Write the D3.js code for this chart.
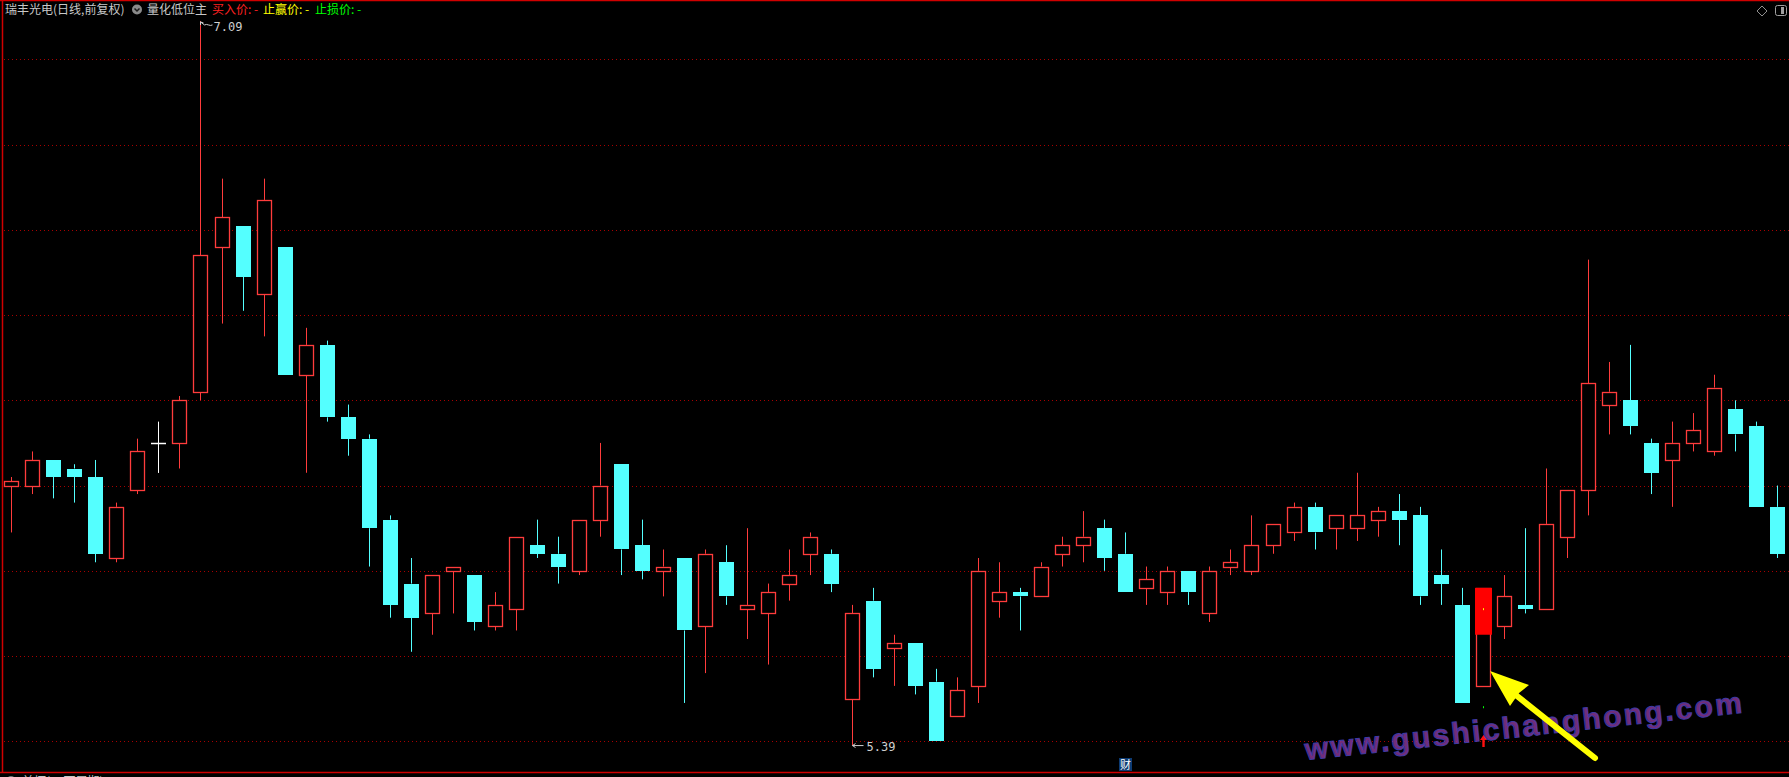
<!DOCTYPE html>
<html>
<head>
<meta charset="utf-8">
<script src="https://cdn.jsdelivr.net/npm/d3@7"></script>
<style>
  html, body { margin: 0; padding: 0; background: #000; overflow: hidden; }
</style>
</head>
<body>
<div id="chart"></div>
<script>
// daily bars (price, yuan)
const opens = [6.00,6.00,6.06,6.04,6.02,5.83,5.99,6.10,6.10,6.22,6.56,6.61,6.45,6.56,6.26,6.33,6.16,
  6.11,5.92,5.77,5.70,5.80,5.79,5.67,5.71,5.86,5.84,5.80,5.92,6.05,5.86,5.80,5.83,5.67,
  5.82,5.71,5.70,5.77,5.84,5.84,5.50,5.73,5.62,5.63,5.54,5.46,5.53,5.73,5.75,5.74,5.84,
  5.86,5.90,5.84,5.76,5.75,5.80,5.70,5.81,5.80,5.86,5.89,5.95,5.90,5.90,5.92,5.94,5.93,
  5.79,5.72,5.53,5.67,5.72,5.71,5.88,5.99,6.19,6.20,6.10,6.06,6.10,6.08,6.18,6.14,5.95];
const highs = [6.02,6.08,6.06,6.05,6.06,5.96,6.11,6.15,6.21,7.09,6.72,6.61,6.72,6.56,6.37,6.34,6.19,
  6.12,5.93,5.83,5.79,5.81,5.79,5.75,5.88,5.92,5.88,5.92,6.10,6.05,5.92,5.85,5.83,5.85,
  5.86,5.90,5.77,5.85,5.89,5.85,5.72,5.76,5.65,5.63,5.57,5.55,5.83,5.82,5.76,5.82,5.88,
  5.94,5.92,5.89,5.81,5.81,5.80,5.81,5.85,5.93,5.91,5.96,5.96,5.93,6.03,5.95,5.98,5.95,
  5.85,5.76,5.76,5.79,5.90,6.04,5.99,6.53,6.29,6.33,6.11,6.15,6.17,6.26,6.20,6.15,6.00];
const lows = [5.89,5.98,5.97,5.96,5.82,5.82,5.98,6.03,6.04,6.20,6.38,6.41,6.35,6.26,6.03,6.15,6.07,
  5.81,5.69,5.61,5.65,5.70,5.66,5.66,5.66,5.83,5.77,5.79,5.88,5.79,5.78,5.74,5.49,5.56,
  5.72,5.64,5.58,5.73,5.79,5.75,5.39,5.55,5.53,5.51,5.40,5.46,5.49,5.69,5.66,5.74,5.81,
  5.82,5.80,5.75,5.72,5.72,5.72,5.68,5.79,5.79,5.84,5.87,5.85,5.85,5.87,5.88,5.86,5.72,
  5.72,5.49,5.53,5.64,5.70,5.71,5.83,5.93,6.12,6.12,5.98,5.95,6.08,6.07,6.08,5.95,5.83];
const closes = [6.01,6.06,6.02,6.02,5.84,5.95,6.08,6.10,6.20,6.54,6.63,6.49,6.67,6.26,6.33,6.16,6.11,
  5.90,5.72,5.69,5.79,5.81,5.68,5.72,5.88,5.84,5.81,5.92,6.00,5.85,5.80,5.81,5.66,5.84,
  5.74,5.72,5.75,5.79,5.88,5.77,5.70,5.57,5.63,5.53,5.40,5.52,5.80,5.75,5.74,5.81,5.86,
  5.88,5.83,5.75,5.78,5.80,5.75,5.80,5.82,5.86,5.91,5.95,5.89,5.93,5.93,5.94,5.92,5.74,
  5.77,5.49,5.76,5.74,5.71,5.91,5.99,6.24,6.22,6.14,6.03,6.10,6.13,6.23,6.12,5.95,5.84];

// price grid
const gridPrices = [5.4,5.6,5.8,6.0,6.2,6.4,6.6,6.8,7.0];

// 量化低位主 signal
const signalIndex = 70;
const signalBar = [5.65, 5.76];
const signalYellowDot = 5.71;
const signalGreenDot = 5.48;
const signalArrow = [5.385, 5.415];

const W = 1789, H = 777;
const red = '#ff3c3c', cyan = '#54ffff';

const svg = d3.select('#chart').append('svg')
  .attr('width', W).attr('height', H)
  .style('background', '#000')
  .style('display', 'block');

const x = d3.scalePoint()
  .domain(d3.range(opens.length))
  .range([0.8, 1787.5])
  .padding(0.5);

const y = d3.scaleLinear()
  .domain([5.4, 7.0])
  .range([741.3, 59.3]);

const px = v => Math.round(v) + 0.5;

// gridlines
svg.append('g').selectAll('line')
  .data(gridPrices)
  .enter().append('line')
  .attr('x1', 4).attr('x2', W)
  .attr('y1', d => px(y(d))).attr('y2', d => px(y(d)))
  .attr('stroke', '#a80000')
  .attr('stroke-dasharray', '1,3');

// frame
svg.append('line').attr('x1', 2.5).attr('x2', 2.5).attr('y1', 0).attr('y2', 773)
  .attr('stroke', '#d00000').attr('stroke-width', 1.5);
svg.append('line').attr('x1', 0).attr('x2', W).attr('y1', 0.5).attr('y2', 0.5)
  .attr('stroke', '#d00000').attr('stroke-width', 1.5);
svg.append('line').attr('x1', 0).attr('x2', W).attr('y1', 772.5).attr('y2', 772.5)
  .attr('stroke', '#d00000').attr('stroke-width', 1.5);

// candles
const bars = opens.map((o, i) => ({i, o, h: highs[i], l: lows[i], c: closes[i]}));

const g = svg.append('g');
bars.forEach(d => {
  const cx = Math.round(x(d.i));
  const up = d.c > d.o, flat = d.c === d.o;
  const col = flat ? '#ffffff' : (up ? red : cyan);
  const top = y(Math.max(d.o, d.c)), bot = y(Math.min(d.o, d.c));
  // wicks
  g.append('line').attr('x1', cx + 0.5).attr('x2', cx + 0.5)
    .attr('y1', y(d.h)).attr('y2', flat ? y(d.l) : top)
    .attr('stroke', col);
  g.append('line').attr('x1', cx + 0.5).attr('x2', cx + 0.5)
    .attr('y1', bot).attr('y2', y(d.l))
    .attr('stroke', col);
  if (flat) {
    g.append('line').attr('x1', cx - 7).attr('x2', cx + 8)
      .attr('y1', px(top)).attr('y2', px(top)).attr('stroke', col).attr('stroke-width', 1.5);
  } else if (up) {
    g.append('rect')
      .attr('x', cx - 6.5).attr('width', 14)
      .attr('y', px(top)).attr('height', Math.max(1, Math.round(bot) - Math.round(top)))
      .attr('fill', '#000').attr('stroke', col).attr('stroke-width', 1.3);
  } else {
    g.append('rect')
      .attr('x', cx - 7).attr('width', 15)
      .attr('y', Math.round(top)).attr('height', Math.max(2, Math.round(bot) - Math.round(top)))
      .attr('fill', col);
  }
});

// signal overlay
const sx = Math.round(x(signalIndex));
svg.append('rect')
  .attr('x', sx - 8).attr('width', 17)
  .attr('y', y(signalBar[1])).attr('height', y(signalBar[0]) - y(signalBar[1]))
  .attr('fill', '#ff0000');
svg.append('rect').attr('x', sx).attr('y', y(signalYellowDot) - 1).attr('width', 1).attr('height', 2).attr('fill', '#ffff00');
svg.append('rect').attr('x', sx).attr('y', y(signalGreenDot) - 1).attr('width', 1).attr('height', 2).attr('fill', '#00ff00');
svg.append('path')
  .attr('d', `M${sx + 0.5},${y(signalArrow[1])} l-3.5,5 h2.3 v7 h2.4 v-7 h2.3 z`)
  .attr('fill', '#ff1010');

// max / min labels
const iMax = d3.maxIndex(highs), iMin = d3.minIndex(lows);
const lab = svg.append('g').attr('fill', '#cfcfcf')
  .style('font-family', '"DejaVu Sans Mono", monospace').style('font-size', '12px');
const mxX = Math.round(x(iMax)) + 0.5, mxY = y(highs[iMax]);
svg.append('path')
  .attr('d', `M${mxX},${mxY + 1} l3,1 M${mxX},${mxY + 1} l0,3 M${mxX},${mxY + 1} l4,3 q2,-1 4,0 q2,1 4,0`)
  .attr('stroke', '#cfcfcf').attr('fill', 'none');
lab.append('text').attr('x', mxX + 13).attr('y', mxY + 10).text(highs[iMax].toFixed(2));
const mnX = Math.round(x(iMin)) + 0.5, mnY = y(lows[iMin]);
svg.append('path')
  .attr('d', `M${mnX},${mnY} h11 M${mnX},${mnY} l3,-2 M${mnX},${mnY} l3,2`)
  .attr('stroke', '#cfcfcf').attr('fill', 'none');
lab.append('text').attr('x', mnX + 14).attr('y', mnY + 5).text(lows[iMin].toFixed(2));

// header
const head = svg.append('g').style('font-family', '"Noto Sans CJK SC", sans-serif').style('font-size', '12px');
head.append('text').attr('x', 5).attr('y', 14).attr('fill', '#c8c8c8').text('瑞丰光电(日线,前复权)');
head.append('circle').attr('cx', 137).attr('cy', 9.5).attr('r', 5).attr('fill', '#8a8a8a');
head.append('path').attr('d', 'M134.5,8.5 l2.5,2.5 l2.5,-2.5').attr('stroke', '#1a1a1a').attr('stroke-width', 1.5).attr('fill', 'none');
head.append('text').attr('x', 147).attr('y', 14).attr('fill', '#c8c8c8').text('量化低位主');
head.append('text').attr('x', 212).attr('y', 14).attr('fill', '#ff2020').text('买入价: -');
head.append('text').attr('x', 263).attr('y', 14).attr('fill', '#ffff00').text('止赢价: -');
head.append('text').attr('x', 315).attr('y', 14).attr('fill', '#00ff00').text('止损价: -');

// top-right icons
svg.append('path').attr('d', 'M1762,6 l5,5 l-5,5 l-5,-5 z').attr('stroke', '#909090').attr('fill', 'none');
svg.append('rect').attr('x', 1775.5).attr('y', 5.5).attr('width', 11).attr('height', 10).attr('rx', 2)
  .attr('stroke', '#a0a0a0').attr('fill', 'none');
svg.append('rect').attr('x', 1781).attr('y', 7).attr('width', 3).attr('height', 7).attr('fill', '#a0a0a0');

// 财 badge
svg.append('rect').attr('x', 1119).attr('y', 758).attr('width', 13).attr('height', 13).attr('fill', '#0d3b73');
svg.append('text').attr('x', 1125.5).attr('y', 769).attr('text-anchor', 'middle')
  .attr('fill', '#ffffff').style('font-family', '"Noto Sans CJK SC", sans-serif').style('font-size', '11px').text('财');

// bottom (clipped) sub-panel title
svg.append('circle').attr('cx', 11).attr('cy', 781).attr('r', 5).attr('fill', '#7a7a7a');
svg.append('text').attr('x', 22).attr('y', 786).attr('fill', '#c8c8c8')
  .style('font-family', '"Noto Sans CJK SC", sans-serif').style('font-size', '12px').text('兰坏(60下周期)  0.00');

// watermark
svg.append('text')
  .attr('transform', 'translate(1306,760) rotate(-6.2)')
  .attr('fill', '#85358f').attr('stroke', '#4a44c0').attr('stroke-width', 1)
  .attr('opacity', 0.85)
  .style('font-family', '"Liberation Sans", sans-serif').style('font-weight', 'bold')
  .style('font-size', '30px').style('letter-spacing', '2.4px')
  .text('www.gushichanghong.com');

// yellow arrow
svg.append('line').attr('x1', 1595).attr('y1', 758).attr('x2', 1512).attr('y2', 692)
  .attr('stroke', '#ffff00').attr('stroke-width', 6).attr('stroke-linecap', 'round');
svg.append('path').attr('d', 'M1490,671 L1529,685 L1519,693 L1510,706 Z').attr('fill', '#ffff00');
</script>
</body>
</html>
